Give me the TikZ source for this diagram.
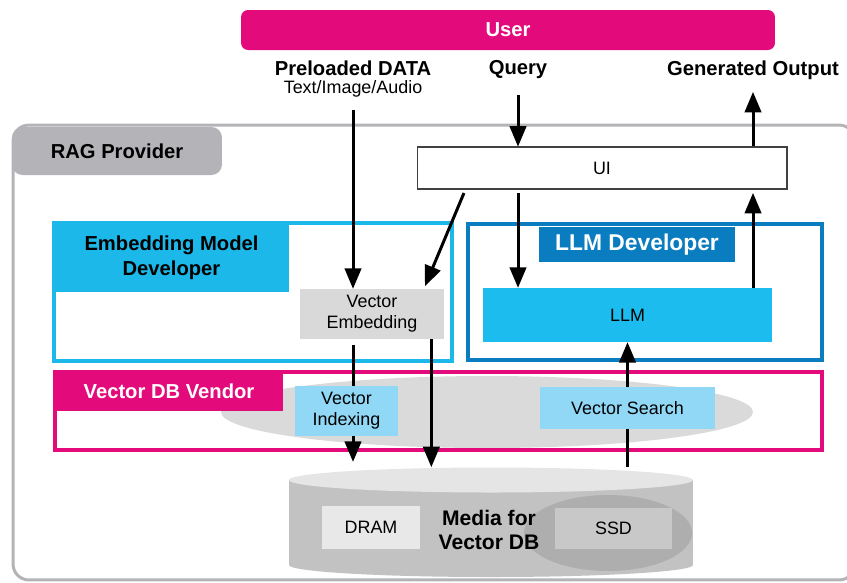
\documentclass[tikz,border=0pt]{standalone}
\usepackage{fontspec}
\setmainfont{Liberation Sans}
\usetikzlibrary{arrows}

\definecolor{userpink}{HTML}{E30B7C}
\definecolor{embblue}{HTML}{1CB8EA}
\definecolor{llmblue}{HTML}{0A7DC0}
\definecolor{llmfill}{HTML}{1DBCEE}
\definecolor{skyblue}{HTML}{90D8F6}
\definecolor{raggray}{HTML}{B4B4B8}
\definecolor{embgray}{HTML}{D9D9D9}
\definecolor{ellgray}{HTML}{DADADA}
\definecolor{cylgray}{HTML}{C2C2C2}
\definecolor{cyltop}{HTML}{E5E5E5}
\definecolor{ssdring}{HTML}{AEAEAE}
\definecolor{ssdgray}{HTML}{C8C8C8}
\definecolor{dramgray}{HTML}{E8E8E8}

\begin{document}
\begin{tikzpicture}
  [x=0.02cm,y=-0.02cm,every node/.style={inner sep=0pt,align=center}]

  \tikzstyle{heading} = [font=\fontsize{11.5}{14}\selectfont\bfseries]
  \tikzstyle{body}    = [font=\fontsize{10.2}{12}\selectfont]
  \tikzstyle{frame}   = [draw,line width=1.9pt]
  \tikzstyle{flow}    = [->, >=triangle 45, line width=1.7pt]

  \path[use as bounding box,clip] (0,0) rectangle (847,582);

  % RAG provider
  \node[draw=raggray,line width=1.7pt,rounded corners=9pt,
        minimum width=16.84cm,minimum height=9.1cm] (rag) at (434,352.5) {};
  \node[heading,fill=raggray,rounded corners=6pt,
        minimum width=4.2cm,minimum height=0.96cm] (raglabel) at (117,151) {RAG Provider};

  % user side
  \node[heading,text=white,fill=userpink,rounded corners=4pt,
        minimum width=10.68cm,minimum height=0.8cm] (user) at (508,30) {User};
  \node[heading] (data) at (353,68) {Preloaded DATA};
  \node[body] (datatype) at (353,89) {Text/Image/Audio};
  \node[heading] (query) at (518,70) {Query};
  \node[heading] (output) at (753,70) {Generated Output};

  \node[body,draw=black!75,line width=0.6pt,fill=white,
        minimum width=7.4cm,minimum height=0.84cm] (ui) at (602,168) {UI};

  % embedding model developer
  \node[frame,draw=embblue,minimum width=7.96cm,minimum height=2.76cm] (embdev) at (253,292) {};
  \node[heading,fill=embblue,minimum width=4.7cm,minimum height=1.38cm] (embdevlabel)
        at (171.5,257.5) {Embedding Model\\Developer};
  \node[body,fill=embgray,minimum width=2.88cm,minimum height=1cm] (emb) at (372,314) {Vector\\Embedding};

  % LLM developer
  \node[frame,draw=llmblue,minimum width=7.08cm,minimum height=2.72cm] (llmdev) at (645,292) {};
  \node[heading,text=white,fill=llmblue,font=\fontsize{13}{15}\selectfont\bfseries,
        minimum width=3.92cm,minimum height=0.7cm] (llmdevlabel) at (637,244.5) {LLM Developer};
  \node[body,fill=llmfill,minimum width=5.78cm,minimum height=1.08cm] (llm) at (627.5,315) {LLM};

  % vector DB vendor
  \fill[ellgray] (487,412) ellipse (266 and 36);
  \node[frame,draw=userpink,minimum width=15.34cm,minimum height=1.56cm] (vendor) at (438.5,411) {};
  \node[heading,text=white,fill=userpink,minimum width=4.56cm,minimum height=0.78cm] (vendorlabel)
        at (169,391.5) {Vector DB Vendor};

  % media
  \fill[cylgray] (289,480) rectangle (693,565);
  \fill[cylgray] (491,565) ellipse (202 and 12);
  \fill[cyltop] (491,480) ellipse (202 and 12.5);
  \fill[ssdring] (608,533) ellipse (84 and 38);
  \coordinate (dbtop) at (491,467);
  \node[body,fill=dramgray,minimum width=1.96cm,minimum height=0.86cm] (dram) at (371,527.5) {DRAM};
  \node[body,fill=ssdgray,minimum width=2.34cm,minimum height=0.82cm] (ssd) at (613.5,528.5) {SSD};
  \node[heading,font=\fontsize{12}{13.5}\selectfont\bfseries] (media) at (489,530) {Media for\\Vector DB};

  % arrows
  \draw[flow,shorten <=7pt] (datatype.south) -- (datatype.south |- emb.north);
  \draw[flow,shorten <=9pt] (query.south) -- (query.south |- ui.north);
  \draw[flow,shorten >=7pt] (output.south |- ui.north) -- (output.south);
  \draw[flow,shorten <=2pt] (ui.south -| query) -- (query |- llm.north);
  \draw[flow,shorten >=2pt] (llm.north -| output) -- (output |- ui.south);
  \draw[flow] ([xshift=27pt,yshift=-2pt]ui.south west) -- ([xshift=-11pt,yshift=1.5pt]emb.north east);
  \draw[flow,shorten <=3pt,shorten >=3pt] (emb.south -| data) -- (data |- dbtop);
  \draw[flow] ([xshift=-7.4pt]emb.south east) -- ([xshift=-7.4pt]emb.south east |- dbtop);
  \draw[flow] (llm.south |- dbtop) -- (llm.south);

  \node[body,fill=skyblue,minimum width=2.06cm,minimum height=1cm] (index) at (346.5,411) {Vector\\Indexing};
  \node[body,fill=skyblue,minimum width=3.5cm,minimum height=0.84cm] (search) at (627.5,408) {Vector Search};
\end{tikzpicture}
\end{document}
